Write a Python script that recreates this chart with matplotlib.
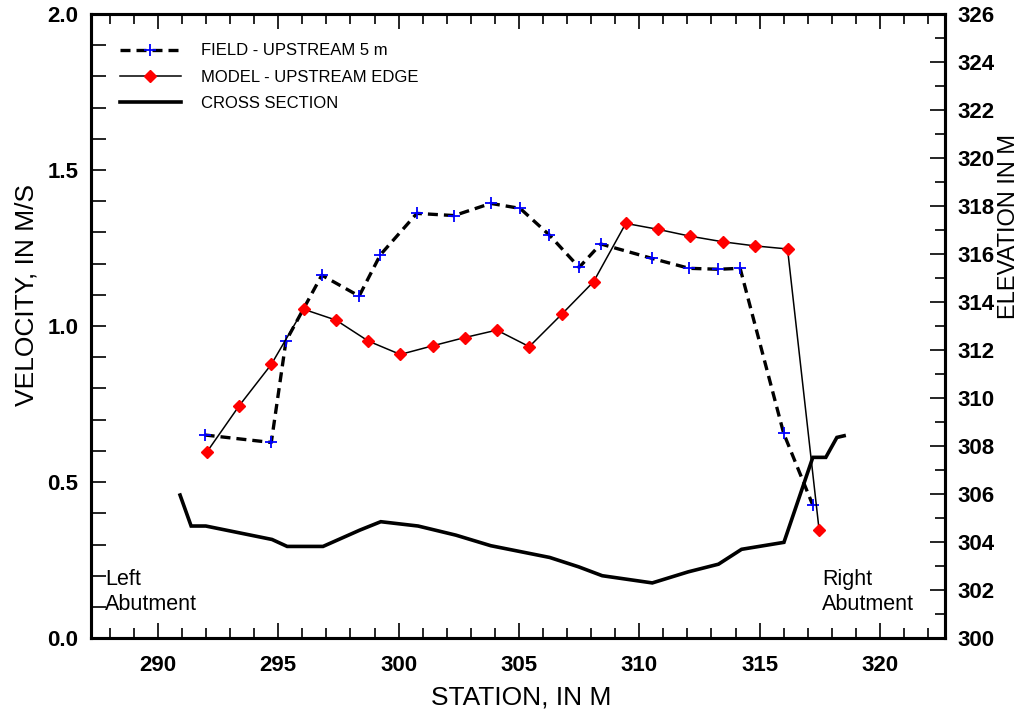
import matplotlib
matplotlib.use("Agg")
import matplotlib.pyplot as plt
from matplotlib.ticker import MultipleLocator, FormatStrFormatter

plt.rcParams["font.family"] = ["Liberation Sans", "DejaVu Sans"]

# Field measurements, 5 m upstream (velocity, m/s)
field_station = [291.94, 294.71, 295.32, 296.81, 298.36, 299.24, 300.76, 302.31,
                 303.83, 305.05, 306.26, 307.50, 308.40, 310.52, 312.07, 313.29,
                 314.19, 316.00, 317.21]
field_velocity = [0.651, 0.627, 0.952, 1.163, 1.096, 1.228, 1.361, 1.354,
                  1.393, 1.377, 1.292, 1.188, 1.263, 1.217, 1.185, 1.182,
                  1.185, 0.656, 0.426]

# Model results at the upstream edge (velocity, m/s)
model_station = [292.04, 293.38, 294.71, 296.05, 297.40, 298.74, 300.07, 301.43,
                 302.74, 304.08, 305.43, 306.78, 308.10, 309.44, 310.77, 312.11,
                 313.47, 314.79, 316.16, 317.47]
model_velocity = [0.597, 0.745, 0.877, 1.054, 1.019, 0.952, 0.909, 0.937,
                  0.963, 0.987, 0.934, 1.038, 1.142, 1.329, 1.310, 1.288,
                  1.270, 1.257, 1.247, 0.348]

# Channel cross section (elevation, m)
xs_station = [290.92, 291.38, 291.99, 294.74, 295.37, 296.86, 298.39, 299.26,
              300.81, 302.38, 303.83, 306.28, 307.48, 308.46, 310.54, 312.03,
              313.29, 314.25, 316.01, 317.21, 317.75, 318.21, 318.51]
xs_elevation = [305.96, 304.67, 304.67, 304.11, 303.82, 303.82, 304.50, 304.85,
                304.67, 304.29, 303.85, 303.36, 302.97, 302.60, 302.30, 302.76,
                303.08, 303.70, 303.99, 307.53, 307.53, 308.36, 308.43]

fig = plt.figure(figsize=(10.26, 7.17), dpi=100)
ax = fig.add_axes([0.0887, 0.110, 0.8323, 0.8705])
ax2 = ax.twinx()

l1, = ax.plot(field_station, field_velocity, color="black", lw=2.4,
              dashes=(3, 1.8), marker="+", ms=9, mew=1.3,
              mec="blue", mfc="blue", label="FIELD - UPSTREAM 5 m", zorder=3)
l2, = ax.plot(model_station, model_velocity, color="black", lw=1.1,
              marker="D", ms=6.5, mec="red", mfc="red",
              label="MODEL - UPSTREAM EDGE", zorder=3)
l3, = ax2.plot(xs_station, xs_elevation, color="black", lw=2.6,
               solid_joinstyle="miter", label="CROSS SECTION")

ax.set_xlim(287.22, 322.7)
ax.set_ylim(0, 2.0)
ax2.set_ylim(300, 326)

ax.xaxis.set_major_locator(MultipleLocator(5))
ax.xaxis.set_minor_locator(MultipleLocator(1))
ax.yaxis.set_major_locator(MultipleLocator(0.5))
ax.yaxis.set_minor_locator(MultipleLocator(0.1))
ax.yaxis.set_major_formatter(FormatStrFormatter("%.1f"))
ax2.yaxis.set_major_locator(MultipleLocator(2))
ax2.yaxis.set_minor_locator(MultipleLocator(1))

ax.tick_params(which="both", direction="in", top=True, right=False, width=1.2)
ax.tick_params(which="major", length=11, labelsize=16, pad=9)
ax.tick_params(axis="x", which="major", length=11, pad=12)
ax.tick_params(axis="x", which="minor", length=7)
ax.tick_params(axis="y", which="minor", length=11)
ax2.tick_params(which="both", direction="in", width=1.2)
ax2.tick_params(which="major", length=11, labelsize=16, pad=9)
ax2.tick_params(which="minor", length=7)

for lab in ax.get_xticklabels() + ax.get_yticklabels() + ax2.get_yticklabels():
    lab.set_fontweight("bold")

for a in (ax, ax2):
    for sp in a.spines.values():
        sp.set_linewidth(2.2)

fig.text(27 / 1026, 1 - 295 / 717, "VELOCITY, IN M/S", rotation=90,
         ha="center", va="center", fontsize=19)
fig.text(1009 / 1026, 1 - 226 / 717, "ELEVATION IN M", rotation=90,
         ha="center", va="center", fontsize=17)
fig.text(521 / 1026, 1 - 697 / 717, "STATION, IN M",
         ha="center", va="center", fontsize=19)

ax.text(0.0164, 0.074, "Left\nAbutment", transform=ax.transAxes,
        ha="left", va="center", fontsize=15.5, linespacing=1.3)
ax.text(0.856, 0.074, "Right\nAbutment", transform=ax.transAxes,
        ha="left", va="center", fontsize=15.5, linespacing=1.3)

leg = ax.legend(handles=[l1, l2, l3], loc="upper left",
                bbox_to_anchor=(0.01, 0.985), frameon=False, fontsize=12,
                handlelength=3.7, handletextpad=1.2, labelspacing=0.68,
                numpoints=1, borderaxespad=0.8)

fig.savefig("out.png", dpi=100)
